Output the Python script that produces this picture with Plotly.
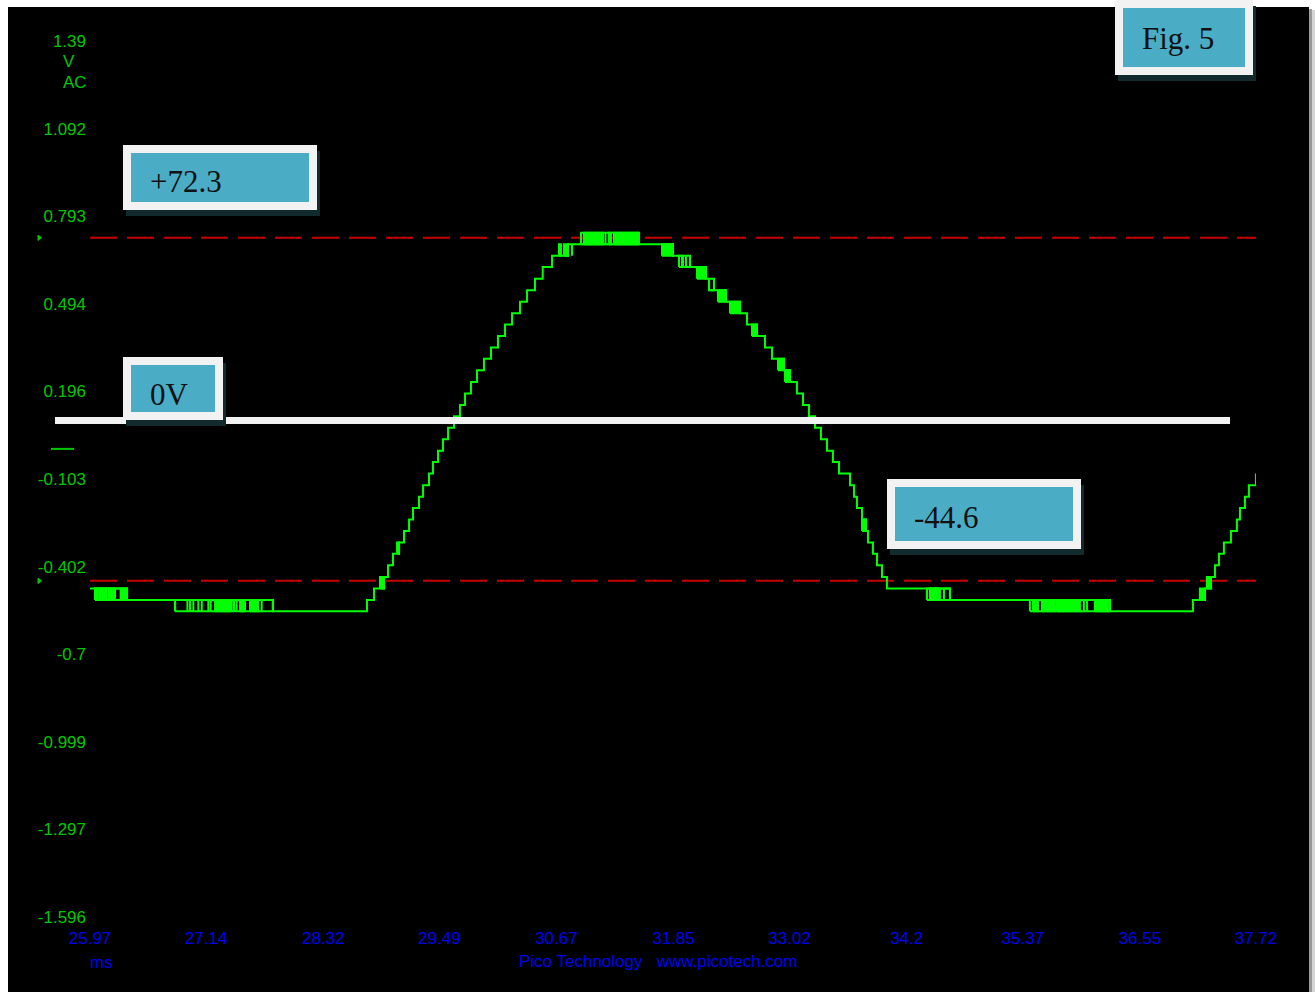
import plotly.graph_objects as go

# ---------------- data ----------------
# vertical scale (V) and time base (ms)
y_tick_vals = [1.3906, 1.092, 0.793, 0.494, 0.196, -0.103, -0.402, -0.7, -0.999, -1.297, -1.596]
y_tick_text = ["1.39", "1.092", "0.793", "0.494", "0.196", "-0.103", "-0.402", "-0.7", "-0.999", "-1.297", "-1.596"]
x_tick_vals = [25.97, 27.14, 28.32, 29.49, 30.67, 31.85, 33.02, 34.2, 35.37, 36.55, 37.72]
x_tick_text = ["25.97", "27.14", "28.32", "29.49", "30.67", "31.85", "33.02", "34.2", "35.37", "36.55", "37.72"]

# ruler levels (V)
ruler_levels = [0.72, -0.45]

# sampled trace: time of each step (ms) and the level held after it (V)
wave_t = [25.970, 26.343, 27.814, 28.761, 28.832, 28.933, 28.973, 29.023, 29.084, 29.134,
          29.185, 29.225, 29.285, 29.326, 29.386, 29.426, 29.477, 29.527, 29.578, 29.638,
          29.698, 29.749, 29.809, 29.870, 29.940, 30.011, 30.081, 30.152, 30.223, 30.303,
          30.374, 30.454, 30.532, 30.626, 30.787, 31.845, 31.946, 32.177, 32.208, 32.379,
          32.520, 32.591, 32.691, 32.772, 32.843, 32.963, 33.024, 33.094, 33.155, 33.215,
          33.276, 33.336, 33.397, 33.457, 33.518, 33.629, 33.669, 33.699, 33.750, 33.790,
          33.810, 33.860, 33.901, 33.951, 34.001, 34.636, 36.249, 37.085, 37.206, 37.266,
          37.307, 37.347, 37.397, 37.468, 37.528, 37.559, 37.609, 37.649, 37.720]
wave_v = [-0.476, -0.515, -0.554, -0.515, -0.476, -0.437, -0.397, -0.358, -0.319, -0.280,
          -0.241, -0.202, -0.163, -0.124, -0.084, -0.045, -0.006, 0.033, 0.072, 0.111,
          0.150, 0.189, 0.228, 0.268, 0.307, 0.346, 0.385, 0.424, 0.463, 0.502,
          0.541, 0.580, 0.620, 0.659, 0.698, 0.659, 0.620, 0.580, 0.541, 0.502,
          0.463, 0.424, 0.385, 0.346, 0.307, 0.268, 0.228, 0.189, 0.150, 0.111,
          0.072, 0.033, -0.006, -0.045, -0.084, -0.124, -0.163, -0.202, -0.241, -0.280,
          -0.319, -0.358, -0.397, -0.437, -0.476, -0.515, -0.554, -0.515, -0.476, -0.437,
          -0.397, -0.358, -0.319, -0.280, -0.241, -0.202, -0.163, -0.124, -0.084]

# stretches where the trace flickers between two adjacent levels
band_t0 = [26.020, 26.827, 30.918, 31.905, 32.208, 34.404, 35.442]
band_t1 = [26.343, 27.814, 31.502, 32.016, 32.258, 34.636, 36.249]
band_lo = [-0.515, -0.554, 0.698, 0.620, 0.541, -0.515, -0.554]
band_hi = [-0.476, -0.515, 0.737, 0.659, 0.580, -0.476, -0.515]

# dense flicker bursts (t0 == t1 is a single glitch)
burst_t0 = [26.020, 26.061, 26.087, 26.153, 26.278,
            26.827, 26.951, 26.978, 27.011, 27.061, 27.096, 27.162, 27.186, 27.230, 27.398,
            27.421, 27.448, 27.482, 27.582, 27.700, 27.811,
            28.892, 29.064,
            30.696, 30.747, 30.827, 30.918, 30.948, 31.165, 31.200, 31.250,
            31.734, 31.905, 31.936, 31.976, 32.016, 32.087, 32.208, 32.258, 32.298, 32.419,
            32.641, 32.903, 32.974, 33.750,
            34.404, 34.434, 34.535, 34.576,
            35.473, 35.563, 35.714, 35.986, 36.017, 36.097,
            37.155, 37.226]
burst_t1 = [26.043, 26.071, 26.131, 26.222, 26.338,
            26.827, 26.951, 26.978, 27.011, 27.061, 27.096, 27.162, 27.186, 27.381, 27.398,
            27.421, 27.448, 27.532, 27.663, 27.700, 27.811,
            28.933, 29.084,
            30.716, 30.787, 30.827, 30.918, 31.139, 31.165, 31.220, 31.492,
            31.845, 31.905, 31.936, 31.976, 32.016, 32.177, 32.208, 32.258, 32.379, 32.520,
            32.691, 32.963, 33.024, 33.790,
            34.404, 34.515, 34.535, 34.576,
            35.523, 35.694, 35.946, 35.986, 36.017, 36.228,
            37.206, 37.266]
burst_lo = [-0.515] * 5 + [-0.554] * 16 + [-0.476, -0.358] + \
           [0.659, 0.659, 0.659, 0.698, 0.698, 0.698, 0.698, 0.698] + \
           [0.659, 0.620, 0.620, 0.620, 0.620, 0.580, 0.541, 0.541, 0.502, 0.463,
            0.385, 0.268, 0.228, -0.280] + [-0.515] * 4 + [-0.554] * 6 + [-0.515, -0.476]
burst_hi = [-0.476] * 5 + [-0.515] * 16 + [-0.437, -0.319] + \
           [0.698, 0.698, 0.698, 0.737, 0.737, 0.737, 0.737, 0.737] + \
           [0.698, 0.659, 0.659, 0.659, 0.659, 0.620, 0.580, 0.580, 0.541, 0.502,
            0.424, 0.307, 0.268, -0.241] + [-0.476] * 4 + [-0.515] * 6 + [-0.476, -0.437]

# call-out boxes: text, left, top, right, bottom, text centre line (px)
callouts = [
    ("Fig. 5", 1115, 0, 1253, 75, 37),
    ("+72.3", 123, 145, 317, 210, 181),
    ("0V", 123, 357, 223, 420, 393),
    ("-44.6", 887, 479, 1081, 549, 516),
]

# ---------------- layout ----------------
W, H = 1315, 992
PL, PR, PT, PB = 90, 1256, 41, 917
X_RANGE = [25.9695, 37.7205]
Y_RANGE = [-1.5965, 1.3911]

GREEN_TXT = "#00c800"
BLUE_TXT = "#0000f0"
TRACE = "#00ff00"
RULER = "#c80000"
MONO = "Liberation Sans, Arial, sans-serif"
SERIF = "Liberation Serif, Times New Roman, serif"


def px(x):
    return (x - PL) / (PR - PL)


def py(y):
    return (PB - y) / (PB - PT)


fig = go.Figure()

# rulers
for lvl in ruler_levels:
    fig.add_trace(go.Scatter(x=[X_RANGE[0], X_RANGE[1]], y=[lvl, lvl], mode="lines",
                             line=dict(color=RULER, width=2, dash="27px,10px"),
                             hoverinfo="skip", showlegend=False))

# flicker band outlines
bx, by = [], []
for a, b, lo, hi in zip(band_t0, band_t1, band_lo, band_hi):
    bx += [a, b, b, a, a, None]
    by += [lo, lo, hi, hi, lo, None]
fig.add_trace(go.Scatter(x=bx, y=by, mode="lines", line=dict(color=TRACE, width=2),
                         hoverinfo="skip", showlegend=False))

# dense bursts
sx, sy = [], []
for a, b, lo, hi in zip(burst_t0, burst_t1, burst_lo, burst_hi):
    sx += [a, b, b, a, a, None]
    sy += [lo, lo, hi, hi, lo, None]
fig.add_trace(go.Scatter(x=sx, y=sy, mode="lines", fill="toself", fillcolor=TRACE,
                         line=dict(color=TRACE, width=2), hoverinfo="skip", showlegend=False))

# main trace
fig.add_trace(go.Scatter(x=wave_t, y=wave_v, mode="lines", line_shape="hv",
                         line=dict(color=TRACE, width=2), hoverinfo="skip", showlegend=False))

shapes = []
# black screen area with a light frame shadow on the right
shapes.append(dict(type="rect", xref="paper", yref="paper", x0=px(8), x1=px(1309),
                   y0=py(7), y1=py(H), fillcolor="black", line_width=0, layer="below"))
shapes.append(dict(type="rect", xref="paper", yref="paper", x0=px(1309), x1=px(1312),
                   y0=py(9), y1=py(H), fillcolor="#9a9a9a", line_width=0, layer="below"))
shapes.append(dict(type="rect", xref="paper", yref="paper", x0=px(1312), x1=px(1315),
                   y0=py(10), y1=py(H), fillcolor="#d4d4d4", line_width=0, layer="below"))

# ruler markers and zero marker on the left edge
for lvl in ruler_levels:
    shapes.append(dict(type="path", xref="paper", yref="y",
                       path=f"M {px(38)},{lvl + 0.009} L {px(41.5)},{lvl} L {px(38)},{lvl - 0.009} Z",
                       fillcolor=GREEN_TXT, line=dict(color=GREEN_TXT, width=1)))
shapes.append(dict(type="line", xref="paper", yref="y", x0=px(51), x1=px(74), y0=0, y1=0,
                   line=dict(color=GREEN_TXT, width=2)))

# white reference line
shapes.append(dict(type="rect", xref="paper", yref="paper", x0=px(55), x1=px(1230),
                   y0=py(424), y1=py(417), fillcolor="#f2f2f2", line_width=0, layer="above"))

annotations = []
for text, l, t, r, b, cy in callouts:
    shapes.append(dict(type="rect", xref="paper", yref="paper", x0=px(l + 3), x1=px(r + 3),
                       y0=py(b + 6), y1=py(t + 6), fillcolor="#12292e", line_width=0, layer="above"))
    shapes.append(dict(type="rect", xref="paper", yref="paper", x0=px(l), x1=px(r),
                       y0=py(b), y1=py(t), fillcolor="#f2f2f2", line_width=0, layer="above"))
    shapes.append(dict(type="rect", xref="paper", yref="paper", x0=px(l + 8), x1=px(r - 8),
                       y0=py(b - 8), y1=py(t + 8), fillcolor="#4bacc6", line_width=0, layer="above"))
    annotations.append(dict(text=text, xref="paper", yref="paper", x=px(l + 25),
                            y=py(cy + 1), xanchor="left", yanchor="middle",
                            showarrow=False, font=dict(family=SERIF, size=31, color="#111111")))

# unit labels and footer
annotations += [
    dict(text="V", xref="paper", yref="paper", x=px(61), y=py(62), xanchor="left", yanchor="middle",
         showarrow=False, font=dict(family=MONO, size=17, color=GREEN_TXT)),
    dict(text="AC", xref="paper", yref="paper", x=px(61), y=py(83), xanchor="left", yanchor="middle",
         showarrow=False, font=dict(family=MONO, size=17, color=GREEN_TXT)),
    dict(text="ms", xref="paper", yref="paper", x=px(101), y=py(962), xanchor="center", yanchor="middle",
         showarrow=False, font=dict(family=MONO, size=17, color=BLUE_TXT)),
    dict(text="Pico Technology\u00a0\u00a0 www.picotech.com", xref="paper", yref="paper", x=px(658),
         y=py(961), xanchor="center", yanchor="middle",
         showarrow=False, font=dict(family=MONO, size=17, color=BLUE_TXT)),
]

fig.update_layout(
    width=W, height=H,
    margin=dict(l=PL, r=W - PR, t=PT, b=H - PB, pad=0),
    paper_bgcolor="white", plot_bgcolor="black",
    showlegend=False,
    shapes=shapes, annotations=annotations,
    xaxis=dict(range=X_RANGE, tickvals=x_tick_vals, ticktext=x_tick_text, showgrid=False,
               zeroline=False, showline=False, ticks="", ticklabelstandoff=9,
               tickfont=dict(family=MONO, size=17, color=BLUE_TXT), fixedrange=True),
    yaxis=dict(range=Y_RANGE, tickvals=y_tick_vals, ticktext=y_tick_text, showgrid=False,
               zeroline=False, showline=False, ticks="", ticklabelstandoff=3,
               tickfont=dict(family=MONO, size=17, color=GREEN_TXT), fixedrange=True),
)

fig.write_html("out.html", config={"displayModeBar": False})
